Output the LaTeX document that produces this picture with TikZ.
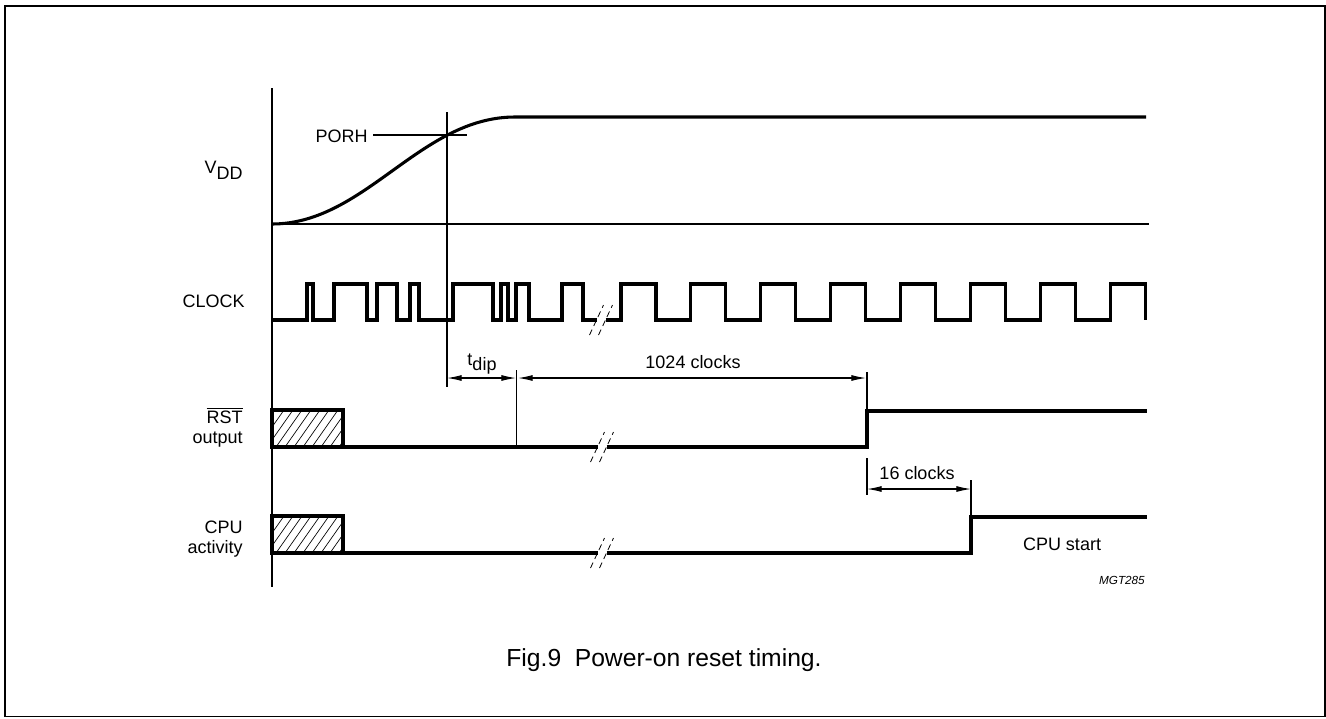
\documentclass[tikz,border=0pt]{standalone}
\usepackage{fontspec}
\setmainfont{Liberation Sans}
\usetikzlibrary{arrows.meta}

\tikzset{
  sig/.style={line width=2.3pt},
  guide/.style={line width=0.8pt},
  brk/.style={line width=0.6pt,dash pattern=on 4.5pt off 3pt},
  dim/.style={line width=0.8pt,{Latex[length=11pt,width=4.5pt]}-{Latex[length=11pt,width=4.5pt]}},
  lbl/.style={inner sep=0pt,anchor=base east},
  txt/.style={inner sep=0pt,anchor=base},
}

\newcommand{\sigbreak}[2]{%
  \draw[brk] (#1-11.5,#2+15) -- (#1+2.5,#2-15);
  \draw[brk] (#1-2.5,#2+15) -- (#1+11.5,#2-15);
}

\newcommand{\hatchbox}[2]{%
  \begin{scope}
    \clip (#1,#2) rectangle (343,#2+37);
    \foreach \h in {240,249,...,350}
      \draw[line width=0.5pt] (\h,#2+37) -- (\h+26,#2);
  \end{scope}
  \draw[sig] (#1,#2+37) rectangle (343,#2);
}

\begin{document}
\begin{tikzpicture}[x=0.75pt,y=-0.75pt,font=\fontsize{13.5}{16}\selectfont]
\useasboundingbox (0,0) rectangle (1326,718);
\draw[line width=1.4pt] (5,6.2) rectangle (1325,716.5);

\draw[guide] (272,88) -- (272,587);
\draw[guide] (272,224) -- (1149,224);
\draw[guide] (447,112) -- (447,387);

\coordinate (porhA) at (373,135);
\coordinate (porhB) at (467,135);
\draw[guide] (porhA) -- (porhB);
\node[lbl] (porh) at (368,142) {PORH};

\draw[sig] (272,224) .. controls (365,224) and (420,117) .. (515,117) -- (1146,117);

\draw[sig] (272,320) -| (307,284) -| (313,320) -| (334,284) -| (367,320)
  -| (377,284) -| (397,320) -| (410,284) -| (419,320) -| (453,284) -| (493,320)
  -| (501,284) -| (508,320) -| (516,284) -| (529,320) -| (562,284) -| (583,320)
  -- (596.5,320);
\draw[sig] (605.5,320) \foreach \k in {0,...,7} {
  -| ({621+69.9*\k},284) -| ({656+69.9*\k},320) };
\sigbreak{601}{320}

\draw[sig] (272,447) -- (597.5,447);
\draw[sig] (606.5,447) -- (867,447) -- (867,411) -- (1147,411);
\sigbreak{602}{447}
\hatchbox{272}{410}

\draw[sig] (272,553) -- (597.5,553);
\draw[sig] (606.5,553) -- (971,553) -- (971,517) -- (1147,517);
\sigbreak{602}{553}
\hatchbox{272}{516}

\coordinate (tdipA) at (447,378);
\coordinate (tdipB) at (516,378);
\coordinate (longA) at (518,378);
\coordinate (longB) at (866,378);
\coordinate (shortA) at (867,489);
\coordinate (shortB) at (971,489);
\draw[guide] (516.5,370) -- (516.5,447);
\draw[guide] (867,372) -- (867,411);
\draw[guide] (867,458) -- (867,495);
\draw[guide] (971,480) -- (971,517);
\draw[dim] (tdipA) -- (tdipB);
\draw[dim] (longA) -- (longB);
\draw[dim] (shortA) -- (shortB);

\node[lbl] (vdd) at (243,173) {V\raisebox{-5pt}{DD}};
\node[lbl] (clock) at (245,307) {CLOCK};
\node[lbl] (rst) at (243,423) {$\overline{\mbox{RST}}$};
\node[lbl] (rstout) at (243,443) {output};
\node[lbl] (cpu) at (243,533) {CPU};
\node[lbl] (cpuact) at (243,553) {activity};
\node[txt] (tdip) at (482,365) {t\raisebox{-4pt}{dip}};
\node[txt] (long) at (693,368) {1024 clocks};
\node[txt] (short) at (917,479) {16 clocks};
\node[txt] (start) at (1062,550) {CPU start};
\node[lbl,font=\fontsize{8.8}{10}\itshape] (mgt) at (1145,584) {MGT285};
\node[txt,font=\fontsize{18.5}{22}\selectfont] (caption) at (664,666) {Fig.9\hspace{0.55em}Power-on reset timing.};
\end{tikzpicture}
\end{document}
